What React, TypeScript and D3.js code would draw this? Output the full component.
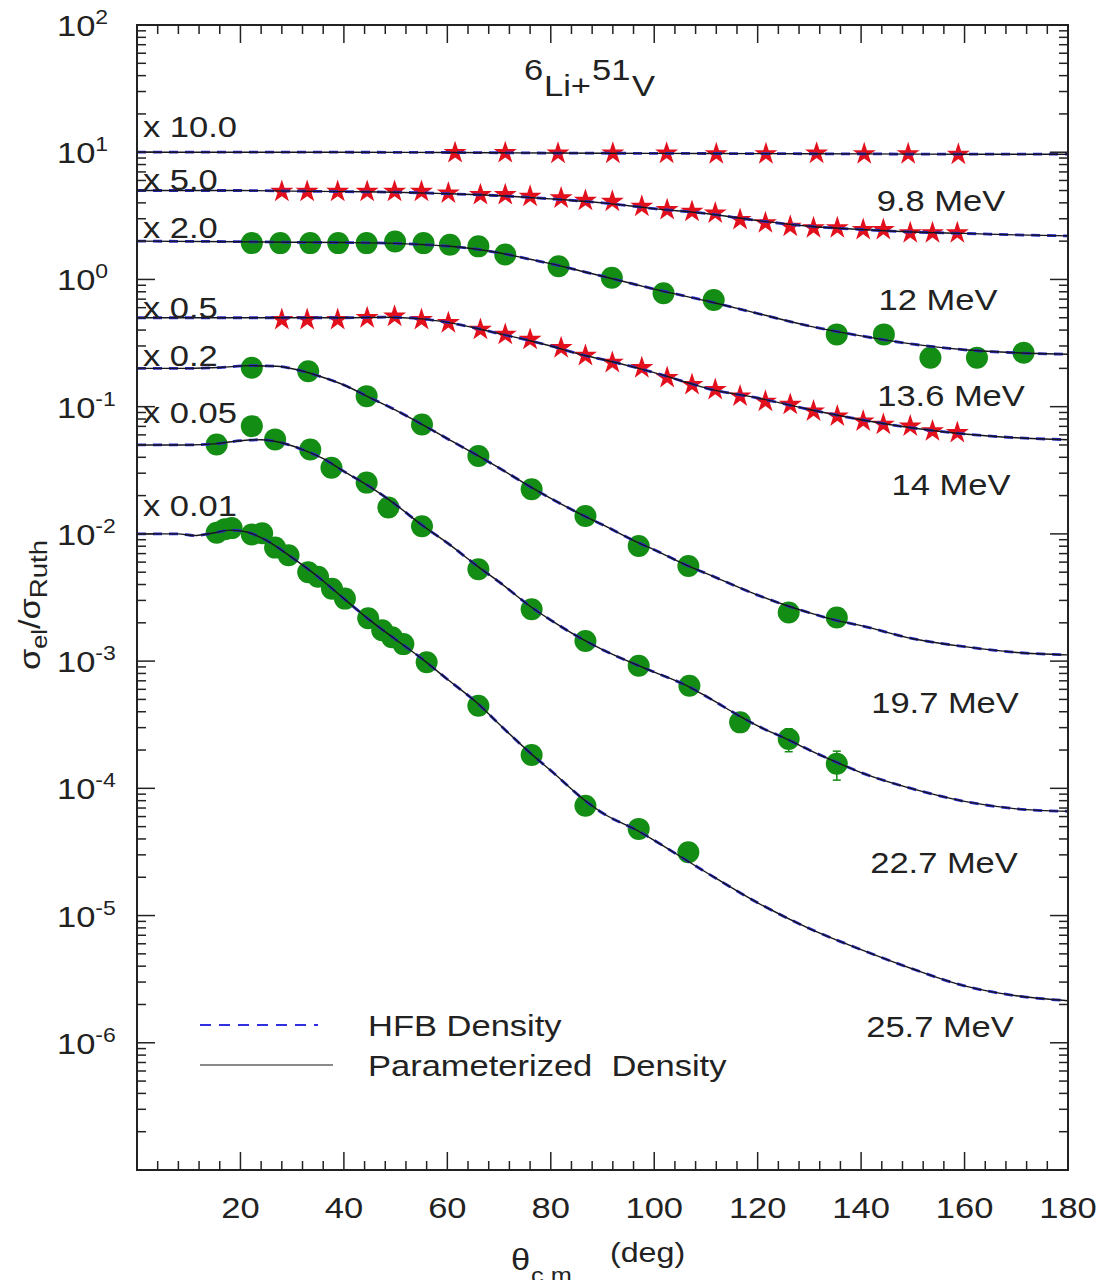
import React from 'react';
import * as d3 from 'd3';

// offset factor labels (left) and beam energies (right), top curve first
const offsetLabels = ['x 10.0', 'x 5.0', 'x 2.0', 'x 0.5', 'x 0.2', 'x 0.05', 'x 0.01'];
const energyLabels = ['9.8 MeV', '12 MeV', '13.6 MeV', '14 MeV', '19.7 MeV', '22.7 MeV', '25.7 MeV'];
const markerKinds = ['star', 'star', 'circle', 'star', 'circle', 'circle', 'circle'];

// experimental points, values as plotted (already multiplied by the offset)
const angles98 = [61.5, 71.2, 81.4, 92.0, 102.4, 112.0, 121.6, 131.4, 140.6, 149.1, 158.8];
const data98 = [9.9, 9.9, 9.8, 9.8, 9.8, 9.7, 9.7, 9.8, 9.7, 9.7, 9.6];

const anglesStar = [28.0, 32.9, 38.8, 44.5, 49.8, 55.0, 60.2, 66.4, 71.2, 76.0, 82.0, 86.7, 91.9, 97.6,
  102.5, 107.3, 111.8, 116.6, 121.5, 126.3, 130.8, 135.4, 140.4, 144.3, 149.5, 153.8, 158.6];
const data12 = [4.91, 4.91, 4.91, 4.91, 4.91, 4.91, 4.77, 4.63, 4.63, 4.49, 4.36, 4.17, 4.10, 3.75,
  3.53, 3.42, 3.32, 2.95, 2.78, 2.61, 2.54, 2.54, 2.46, 2.46, 2.32, 2.32, 2.32];
const data14 = [0.483, 0.483, 0.483, 0.499, 0.513, 0.483, 0.456, 0.404, 0.369, 0.337, 0.290, 0.252, 0.222, 0.202,
  0.169, 0.149, 0.136, 0.121, 0.110, 0.104, 0.0922, 0.0842, 0.0769, 0.0725, 0.0703, 0.0643, 0.0624];

const angles136 = [22.2, 27.7, 33.5, 38.9, 44.4, 49.9, 55.4, 60.5, 66.0, 71.2, 81.5, 91.8, 101.8, 111.5,
  135.3, 144.4, 153.4, 162.4, 171.4];
const data136 = [1.93, 1.93, 1.93, 1.93, 1.93, 1.99, 1.93, 1.875, 1.82, 1.57, 1.27, 1.03, 0.78, 0.69,
  0.37, 0.37, 0.242, 0.242, 0.265];

const angles197 = [22.2, 33.1, 44.4, 55.1, 66.0, 76.3, 86.7, 97.0, 106.6, 126.0, 135.3];
const data197 = [0.202, 0.190, 0.121, 0.0725, 0.0409, 0.0224, 0.0138, 0.00804, 0.0056, 0.00241, 0.0022];

const angles227 = [15.4, 22.2, 26.7, 33.5, 37.6, 44.4, 48.6, 55.1, 66.0, 76.3, 86.7, 97.0, 106.8, 116.6, 126.0, 135.3];
const data227 = [0.0505, 0.0703, 0.0553, 0.0461, 0.0331, 0.0253, 0.0161, 0.0115, 0.00527, 0.00256, 0.00144,
  0.000918, 0.00064, 0.00033, 0.000244, 0.000156];
const err227 = [0, 0, 0, 0, 0, 0, 0, 0, 0, 0, 0, 0, 0, 0, 0.00005, 0.00004];

const angles257 = [15.4, 17.0, 18.3, 22.2, 24.2, 26.7, 29.3, 33.1, 35.0, 37.7, 40.2, 44.7, 47.4, 49.3, 51.5,
  56.0, 66.0, 76.3, 86.7, 97.0, 106.6];
const data257 = [0.0102, 0.0109, 0.0111, 0.0099, 0.0101, 0.0078, 0.0068, 0.0050, 0.0046, 0.0037, 0.0031,
  0.00217, 0.00175, 0.00154, 0.00136, 0.00098, 0.000446, 0.000183, 0.000073, 0.000048, 0.0000315];

// calculated curves (HFB and parameterized density lie on top of each other)
const th98 = [0, 40, 60, 80, 100, 120, 140, 160, 180];
const curve98 = [10, 10, 9.95, 9.85, 9.8, 9.75, 9.7, 9.65, 9.65];

const th12 = [0, 20, 30, 40, 50, 60, 70, 80, 90, 100, 110, 120, 130, 140, 150, 160, 170, 180];
const curve12 = [5, 5, 4.95, 4.9, 4.85, 4.72, 4.55, 4.3, 4.0, 3.6, 3.3, 2.9, 2.62, 2.47, 2.36, 2.3, 2.24, 2.2];

const th136 = [0, 20, 30, 40, 50, 55, 60, 66, 70, 76, 80, 86, 90, 97, 100, 110, 120, 130, 140, 150, 160, 170, 180];
const curve136 = [2.0, 1.98, 1.96, 1.95, 1.92, 1.88, 1.83, 1.72, 1.62, 1.44, 1.33, 1.16, 1.06, 0.9, 0.84,
  0.68, 0.54, 0.43, 0.36, 0.31, 0.28, 0.265, 0.258];

const th14 = [0, 20, 30, 40, 48, 55, 60, 66, 70, 76, 80, 87, 90, 97, 100, 107, 110, 120, 130, 140, 150, 160, 170, 180];
const curve14 = [0.5, 0.5, 0.5, 0.5, 0.505, 0.49, 0.46, 0.41, 0.375, 0.33, 0.3, 0.25, 0.235, 0.2, 0.185,
  0.152, 0.14, 0.117, 0.095, 0.079, 0.068, 0.061, 0.057, 0.055];

const th197 = [0, 10, 16, 22, 27, 31, 35, 40, 45, 50, 55, 60, 66, 70, 76, 80, 87, 90, 97, 100, 107, 110,
  120, 126, 130, 135, 140, 150, 160, 170, 180];
const curve197 = [0.2, 0.2, 0.203, 0.21, 0.208, 0.195, 0.175, 0.148, 0.118, 0.094, 0.073, 0.056, 0.041, 0.033,
  0.0235, 0.019, 0.0135, 0.0118, 0.0085, 0.0075, 0.0055, 0.0049, 0.0033, 0.0027, 0.0024, 0.0021, 0.0019,
  0.0015, 0.0013, 0.00117, 0.00112];

const th227 = [0, 10, 15, 20, 24, 28, 32, 36, 40, 45, 50, 55, 60, 66, 70, 76, 80, 87, 90, 97, 100, 107, 110,
  116, 120, 126, 130, 135, 140, 150, 160, 170, 180];
const curve227 = [0.05, 0.05, 0.051, 0.054, 0.055, 0.052, 0.046, 0.039, 0.031, 0.0235, 0.017, 0.0118, 0.0085,
  0.0055, 0.0042, 0.0027, 0.0021, 0.00142, 0.00123, 0.00092, 0.00082, 0.00062, 0.00053, 0.00038, 0.00031,
  0.00024, 0.0002, 0.000162, 0.000133, 0.000099, 0.000079, 0.000069, 0.000066];

const th257 = [0, 8, 11, 15, 18, 21, 25, 30, 35, 40, 45, 50, 55, 60, 66, 70, 76, 80, 87, 90, 97, 100, 107,
  110, 120, 130, 140, 150, 160, 170, 180];
const curve257 = [0.01, 0.01, 0.0097, 0.0102, 0.0107, 0.0104, 0.0089, 0.0065, 0.0046, 0.0031, 0.0021,
  0.00148, 0.00105, 0.00072, 0.00046, 0.00032, 0.00019, 0.000138, 0.000078, 0.000064, 0.000046, 0.000039,
  0.000026, 0.0000219, 0.0000126, 0.0000079, 0.0000054, 0.0000038, 0.0000028, 0.00000234, 0.00000214];

const xTickValues = [20, 40, 60, 80, 100, 120, 140, 160, 180];
const yDecades = [2, 1, 0, -1, -2, -3, -4, -5, -6];

// layout of the hand placed labels
const offsetBaselines = [137, 190, 238, 318, 366, 423, 516];
const energyCenters = [941, 938, 951, 951, 945, 944, 940];
const energyBaselines = [211, 310, 406, 495, 713, 873, 1037];

const W = 1106, H = 1288;
const left = 137, right = 1068, top = 25, bottom = 1170;
const FONT = 'Liberation Sans, Arial, Helvetica, sans-serif';
const STRETCH = 1.15;
const GREEN = '#138d13';
const RED = '#e2101c';

function T(props: { x: number; y: number; size?: number; anchor?: string; rotate?: number; children: any }) {
  const { x, y, size = 30, anchor = 'start', rotate = 0, children } = props;
  return (
    <text
      transform={`translate(${x},${y}) rotate(${rotate}) scale(${STRETCH},1)`}
      fontSize={size}
      textAnchor={anchor}
      fontFamily={FONT}
      fill="#222"
      style={{ whiteSpace: 'pre' }}
    >
      {children}
    </text>
  );
}

export default function App() {
  const x = d3.scaleLinear().domain([0, 180]).range([left, right]);
  const y = d3.scaleLog().domain([1e-7, 1e2]).range([bottom, top]);

  const points = [
    { angles: angles98, values: data98 },
    { angles: anglesStar, values: data12 },
    { angles: angles136, values: data136 },
    { angles: anglesStar, values: data14 },
    { angles: angles197, values: data197 },
    { angles: angles227, values: data227, errors: err227 },
    { angles: angles257, values: data257 },
  ];
  const curves = [
    [th98, curve98], [th12, curve12], [th136, curve136], [th14, curve14],
    [th197, curve197], [th227, curve227], [th257, curve257],
  ];

  const line = d3.line<[number, number]>()
    .x(d => x(d[0]))
    .y(d => y(d[1]))
    .curve(d3.curveMonotoneX);

  const star = d3.symbol(d3.symbolStar, 165)() as string;

  const xMinor = d3.range(0, 181, 4);
  const yMinor: number[] = [];
  for (let e = -7; e < 2; e++) {
    for (let k = 2; k <= 9; k++) yMinor.push(k * Math.pow(10, e));
  }
  const yMajor = d3.range(-7, 3).map(e => Math.pow(10, e));

  const axisColor = '#222';

  return (
    <svg width={W} height={H} style={{ display: 'block', margin: '-8px', background: '#fff' }}>
      <rect x={0} y={0} width={W} height={H} fill="#fff" />

      {/* markers */}
      {points.map((s, i) => (
        <g key={'pts' + i}>
          {s.angles.map((a, j) => {
            const cx = x(a), cy = y(s.values[j]);
            const err = s.errors ? s.errors[j] : 0;
            return (
              <g key={j}>
                {err > 0 && (
                  <g stroke={GREEN} strokeWidth={1.5}>
                    <line x1={cx} x2={cx} y1={y(s.values[j] + err)} y2={y(s.values[j] - err)} />
                    <line x1={cx - 4} x2={cx + 4} y1={y(s.values[j] + err)} y2={y(s.values[j] + err)} />
                    <line x1={cx - 4} x2={cx + 4} y1={y(s.values[j] - err)} y2={y(s.values[j] - err)} />
                  </g>
                )}
                {markerKinds[i] === 'star'
                  ? <path d={star} transform={`translate(${cx},${cy})`} fill={RED} />
                  : <circle cx={cx} cy={cy} r={11} fill={GREEN} />}
              </g>
            );
          })}
        </g>
      ))}

      {/* calculated curves: HFB dashed blue under the parameterized solid line */}
      {curves.map((c, i) => {
        const pts = c[0].map((a, j) => [a, c[1][j]] as [number, number]);
        const d = line(pts) as string;
        return (
          <g key={'crv' + i} fill="none">
            <path d={d} stroke="#2b2bd0" strokeWidth={2.8} strokeDasharray="9,7" />
            <path d={d} stroke="#161620" strokeWidth={1.4} />
          </g>
        );
      })}

      {/* frame and ticks */}
      <rect x={left} y={top} width={right - left} height={bottom - top} fill="none" stroke={axisColor} strokeWidth={2} />
      <g stroke={axisColor} strokeWidth={1.5}>
        {xMinor.map(v => {
          const len = v % 20 === 0 ? 18 : 9;
          return (
            <g key={'xt' + v}>
              <line x1={x(v)} x2={x(v)} y1={bottom} y2={bottom - len} />
              <line x1={x(v)} x2={x(v)} y1={top} y2={top + len} />
            </g>
          );
        })}
        {yMinor.concat(yMajor).map((v, i) => {
          const len = i >= yMinor.length ? 18 : 9;
          return (
            <g key={'yt' + i}>
              <line x1={left} x2={left + len} y1={y(v)} y2={y(v)} />
              <line x1={right} x2={right - len} y1={y(v)} y2={y(v)} />
            </g>
          );
        })}
      </g>

      {/* tick labels */}
      {xTickValues.map(v => (
        <T key={'xl' + v} x={x(v)} y={bottom + 48} anchor="middle">{v}</T>
      ))}
      {yDecades.map(e => (
        <T key={'yl' + e} x={57} y={y(Math.pow(10, e)) + 11}>
          <tspan>10</tspan>
          <tspan fontSize={20} dy={-12}>{e}</tspan>
        </T>
      ))}

      {/* axis titles */}
      <T x={511} y={1270}>θ</T>
      <T x={531} y={1283} size={22}>c.m.</T>
      <T x={610} y={1262} size={28}>(deg)</T>
      <T x={40} y={605} anchor="middle" rotate={-90}>
        <tspan>σ</tspan>
        <tspan fontSize={22} dy={7}>el</tspan>
        <tspan dy={-7}>/σ</tspan>
        <tspan fontSize={24} dy={7}>Ruth</tspan>
      </T>

      {/* reaction */}
      <T x={524} y={80}>6</T>
      <T x={544} y={96}>Li+</T>
      <T x={592} y={80}>51</T>
      <T x={632} y={96}>V</T>

      {/* offsets and energies */}
      {offsetLabels.map((s, i) => (
        <T key={'ol' + i} x={143} y={offsetBaselines[i]}>{s}</T>
      ))}
      {energyLabels.map((s, i) => (
        <T key={'el' + i} x={energyCenters[i]} y={energyBaselines[i]} anchor="middle">{s}</T>
      ))}

      {/* legend */}
      <line x1={200} x2={318} y1={1025} y2={1025} stroke="#3030e0" strokeWidth={2} strokeDasharray="11,8" />
      <T x={368} y={1036}>HFB Density</T>
      <line x1={200} x2={333} y1={1065} y2={1065} stroke="#8a8a8a" strokeWidth={2} />
      <T x={368} y={1076}>{'Parameterized  Density'}</T>
    </svg>
  );
}
